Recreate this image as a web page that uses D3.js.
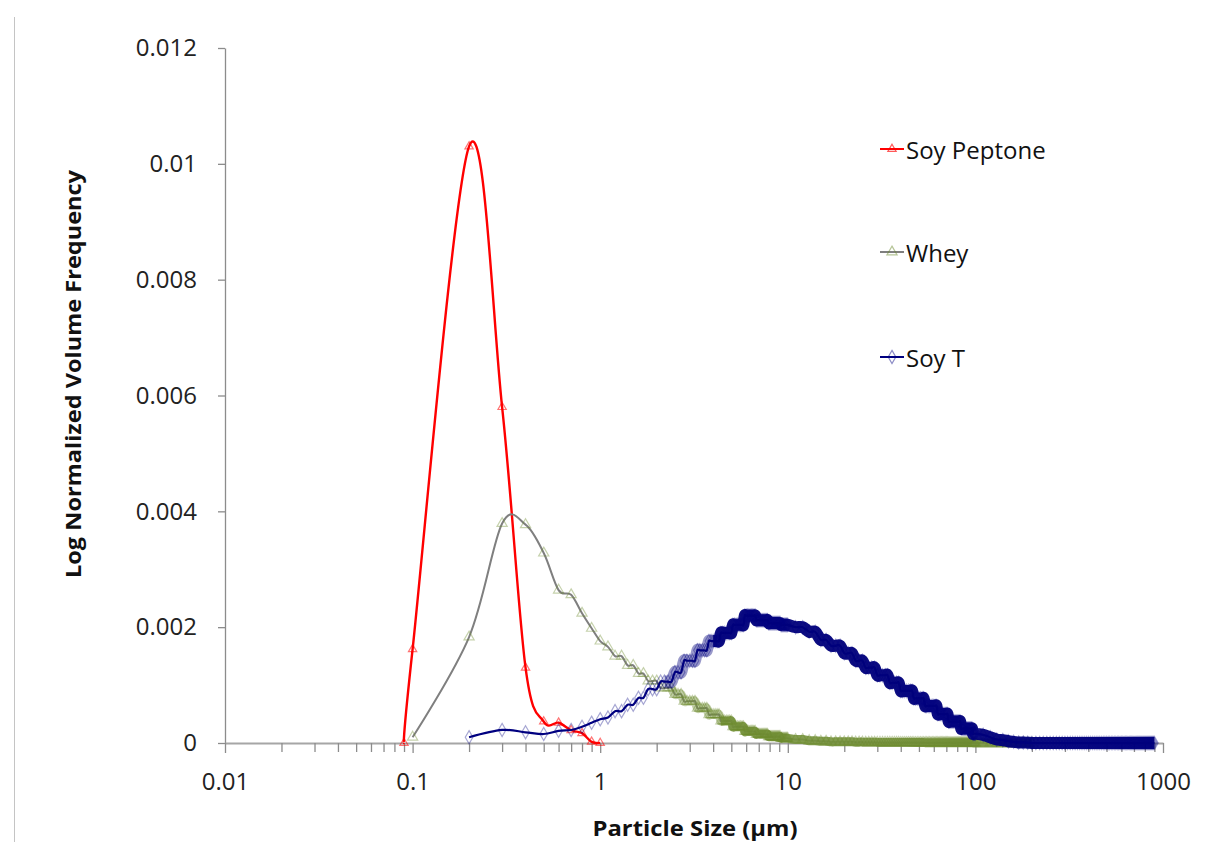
<!DOCTYPE html>
<html>
<head>
<meta charset="utf-8">
<script src="https://cdn.jsdelivr.net/npm/d3@7"></script>
<style>
  body { margin: 0; background: #fff; }
  text { font-family: "Open Sans", "DejaVu Sans", sans-serif; }
</style>
</head>
<body>
<div id="chart"></div>
<script>
// tick labels
var xTickValues = [0.01, 0.1, 1, 10, 100, 1000];
var xTickLabels = ["0.01", "0.1", "1", "10", "100", "1000"];
var yTickValues = [0, 0.002, 0.004, 0.006, 0.008, 0.01, 0.012];
var yTickLabels = ["0", "0.002", "0.004", "0.006", "0.008", "0.01", "0.012"];
var seriesNames = ["Soy Peptone", "Whey", "Soy T"];

// particle size classes (um)
var lowSizes = [0.1, 0.2, 0.3, 0.4, 0.5, 0.6, 0.7, 0.8, 0.9, 1.0];
var fineSizes = [
  1.1, 1.2, 1.3, 1.4, 1.5, 1.6, 1.7, 1.8, 1.9, 2.0,
  2.1, 2.2, 2.3, 2.4, 2.5, 2.6, 2.7, 2.8, 2.9, 3.0,
  3.1, 3.2, 3.3, 3.4, 3.5, 3.6, 3.7, 3.8, 3.9, 4.0,
  4.1, 4.2, 4.3, 4.4, 4.5, 4.6, 4.7, 4.8, 4.9, 5.0,
  5.1, 5.2, 5.3, 5.4, 5.5, 5.6, 5.7, 5.8, 5.9, 6.0,
  6.1, 6.2, 6.3, 6.4, 6.5, 6.6, 6.7, 6.8, 6.9, 7.0,
  7.1, 7.2, 7.3, 7.4, 7.5, 7.6, 7.7, 7.8, 7.9, 8.0,
  8.1, 8.2, 8.3, 8.4, 8.5, 8.6, 8.7, 8.8, 8.9, 9.0,
  9.1, 9.2, 9.3, 9.4, 9.5, 9.6, 9.7, 9.8, 9.9, 10.0
];
var midSizes = [
  11, 12, 13, 14, 15, 16, 17, 18, 19, 20,
  21, 22, 23, 24, 25, 26, 27, 28, 29, 30,
  31, 32, 33, 34, 35, 36, 37, 38, 39, 40,
  41, 42, 43, 44, 45, 46, 47, 48, 49, 50,
  51, 52, 53, 54, 55, 56, 57, 58, 59, 60,
  61, 62, 63, 64, 65, 66, 67, 68, 69, 70,
  71, 72, 73, 74, 75, 76, 77, 78, 79, 80,
  81, 82, 83, 84, 85, 86, 87, 88, 89, 90,
  91, 92, 93, 94, 95, 96, 97, 98, 99, 100
];
var coarseSizes = [
  110, 120, 130, 140, 150, 160, 170, 180, 190, 200,
  210, 220, 230, 240, 250, 260, 270, 280, 290, 300,
  310, 320, 330, 340, 350, 360, 370, 380, 390, 400,
  410, 420, 430, 440, 450, 460, 470, 480, 490, 500,
  510, 520, 530, 540, 550, 560, 570, 580, 590, 600,
  610, 620, 630, 640, 650, 660, 670, 680, 690, 700,
  710, 720, 730, 740, 750, 760, 770, 780, 790, 800,
  810, 820, 830, 840, 850, 860, 870, 880, 890, 900
];

// Soy Peptone
var peptoneSize = [0.09, 0.1, 0.2, 0.3, 0.4, 0.5, 0.6, 0.7, 0.8, 0.9, 1.0];
var peptoneFreq = [0, 0.00162, 0.0103, 0.0058, 0.0013, 0.00037, 0.00035, 0.00022, 0.00017, 0.00002, 0];

// Whey
var wheyFreqLow = [0.0001, 0.00183, 0.00379, 0.00377, 0.00328, 0.00264, 0.00256, 0.00224, 0.00198, 0.00176];
var wheyFreqFine = [
  0.00166, 0.0015, 0.0015, 0.00134, 0.00134, 0.0012, 0.0012, 0.00107, 0.00107, 0.00107,
  0.00095, 0.00095, 0.00095, 0.00095, 0.00084, 0.00084, 0.00084, 0.00072, 0.00072, 0.00072,
  0.00072, 0.00072, 0.0006, 0.0006, 0.0006, 0.0006, 0.0006, 0.00049, 0.00049, 0.00049,
  0.00049, 0.00049, 0.00049, 0.00038, 0.00038, 0.00038, 0.00038, 0.00038, 0.00038, 0.00038,
  0.00028, 0.00028, 0.00028, 0.00028, 0.00028, 0.00028, 0.00028, 0.00028, 0.0002, 0.0002,
  0.0002, 0.0002, 0.0002, 0.0002, 0.0002, 0.0002, 0.0002, 0.00015, 0.00015, 0.00015,
  0.00015, 0.00015, 0.00015, 0.00015, 0.00015, 0.00015, 0.00015, 0.00015, 0.00011, 0.00011,
  0.00011, 0.00011, 0.00011, 0.00011, 0.00011, 0.00011, 0.00011, 0.00011, 0.00011, 0.00011,
  0.00011, 0.00008, 0.00008, 0.00008, 0.00008, 0.00008, 0.00008, 0.00008, 0.00008, 0.00008
];
var wheyFreqMid = [
  0.00006, 0.00006, 0.00004, 0.00004, 0.00003, 0.00003, 0.00002, 0.00002, 0.00002, 0.00002,
  0.00002, 0.00002, 0.000015, 0.000015, 0.000015, 0.000012, 0.000012, 0.000012, 0.000012, 0.00001,
  0.00001, 0.00001, 0.00001, 0.00001, 0.00001, 0.00001, 0.00001, 0.00001, 0.00001, 0.000008,
  0.000008, 0.000008, 0.000008, 0.000008, 0.000008, 0.000008, 0.000007, 0.000007, 0.000007, 0.000007,
  0.000007, 0.000007, 0.000007, 0.000006, 0.000006, 0.000006, 0.000006, 0.000006, 0.000006, 0.000006,
  0.000006, 0.000006, 0.000005, 0.000005, 0.000005, 0.000005, 0.000005, 0.000005, 0.000005, 0.000005,
  0.000005, 0.000004, 0.000004, 0.000004, 0.000004, 0.000004, 0.000004, 0.000004, 0.000004, 0.000004,
  0.000004, 0.000004, 0.000004, 0.000003, 0.000003, 0.000003, 0.000003, 0.000003, 0.000003, 0.000003,
  0.000003, 0.000003, 0.000003, 0.000003, 0.000003, 0.000003, 0.000002, 0.000002, 0.000002, 0.000002
];
var wheyFreqCoarse = [0, 0, 0, 0, 0, 0, 0, 0, 0, 0];

// Soy T
var soyTFreqLow = [0.0001, 0.000225, 0.000185, 0.000155, 0.00021, 0.000225, 0.00028, 0.00035, 0.00041];
var soyTFreqFine = [
  0.00044, 0.00055, 0.00055, 0.00066, 0.00066, 0.00078, 0.00078, 0.00093, 0.00093, 0.00093,
  0.00106, 0.00106, 0.00106, 0.00106, 0.00122, 0.00122, 0.00122, 0.00142, 0.00142, 0.00142,
  0.00142, 0.00142, 0.0016, 0.0016, 0.0016, 0.0016, 0.0016, 0.00176, 0.00176, 0.00176,
  0.00176, 0.00176, 0.00176, 0.0019, 0.0019, 0.0019, 0.0019, 0.0019, 0.0019, 0.0019,
  0.00204, 0.00204, 0.00204, 0.00204, 0.00204, 0.00204, 0.00204, 0.00204, 0.0022, 0.0022,
  0.0022, 0.0022, 0.0022, 0.0022, 0.0022, 0.0022, 0.0022, 0.00212, 0.00212, 0.00212,
  0.00212, 0.00212, 0.00212, 0.00212, 0.00212, 0.00212, 0.00212, 0.00212, 0.00207, 0.00207,
  0.00207, 0.00207, 0.00207, 0.00207, 0.00207, 0.00207, 0.00207, 0.00207, 0.00207, 0.00207,
  0.00207, 0.00204, 0.00204, 0.00204, 0.00204, 0.00204, 0.00204, 0.00204, 0.00204, 0.00204
];
var soyTFreqMid = [
  0.002, 0.002, 0.00192, 0.00192, 0.00178, 0.00178, 0.00168, 0.00168, 0.00168, 0.00155,
  0.00155, 0.00155, 0.00142, 0.00142, 0.00142, 0.0013, 0.0013, 0.0013, 0.0013, 0.00117,
  0.00117, 0.00117, 0.00117, 0.00117, 0.00104, 0.00104, 0.00104, 0.00104, 0.00104, 0.0009,
  0.0009, 0.0009, 0.0009, 0.0009, 0.0009, 0.0009, 0.00077, 0.00077, 0.00077, 0.00077,
  0.00077, 0.00077, 0.00077, 0.00064, 0.00064, 0.00064, 0.00064, 0.00064, 0.00064, 0.00064,
  0.00064, 0.00064, 0.0005, 0.0005, 0.0005, 0.0005, 0.0005, 0.0005, 0.0005, 0.0005,
  0.0005, 0.00037, 0.00037, 0.00037, 0.00037, 0.00037, 0.00037, 0.00037, 0.00037, 0.00037,
  0.00037, 0.00037, 0.00037, 0.00025, 0.00025, 0.00025, 0.00025, 0.00025, 0.00025, 0.00025,
  0.00025, 0.00025, 0.00025, 0.00025, 0.00025, 0.00025, 0.00016, 0.00016, 0.00016, 0.00016
];
var soyTFreqCoarse = [
  0.00014, 0.0001, 0.00006, 0.00005, 0.00003, 0.00002, 0.00001, 0.00001, 0.000005, 0,
  0, 0, 0, 0, 0, 0, 0, 0, 0, 0,
  0, 0, 0, 0, 0, 0, 0, 0, 0, 0,
  0, 0, 0, 0, 0, 0, 0, 0, 0, 0,
  0, 0, 0, 0, 0, 0, 0, 0, 0, 0,
  0, 0, 0, 0, 0, 0, 0, 0, 0, 0,
  0, 0, 0, 0, 0, 0, 0, 0, 0, 0,
  0, 0, 0, 0, 0, 0, 0, 0, 0, 0
];

var wheySize = lowSizes.concat(fineSizes, midSizes, coarseSizes.slice(0, wheyFreqCoarse.length));
var wheyFreq = wheyFreqLow.concat(wheyFreqFine, wheyFreqMid, wheyFreqCoarse);
var soyTSize = lowSizes.slice(1).concat(fineSizes, midSizes, coarseSizes);
var soyTFreq = soyTFreqLow.concat(soyTFreqFine, soyTFreqMid, soyTFreqCoarse);

var width = 1226, height = 842;

var svg = d3.select("#chart").append("svg")
    .attr("width", width)
    .attr("height", height);

var x = d3.scaleLog().domain([0.01, 1000]).range([225, 1163]);
var y = d3.scaleLinear().domain([0, 0.012]).range([743, 48]);

// slide frame edge on the left
svg.append("line")
    .attr("x1", 14.5).attr("x2", 14.5)
    .attr("y1", 17).attr("y2", height)
    .attr("stroke", "#c4c4c4")
    .attr("stroke-width", 1);

// y axis
var yAxis = svg.append("g")
    .attr("transform", "translate(225,0)")
    .call(d3.axisLeft(y)
        .tickValues(yTickValues)
        .tickFormat(function (d, i) { return yTickLabels[i]; })
        .tickSize(7)
        .tickSizeOuter(0)
        .tickPadding(21));
yAxis.select(".domain").attr("stroke", "#8c8c8c").attr("stroke-width", 1.3);
yAxis.selectAll(".tick line").attr("stroke", "#8c8c8c").attr("stroke-width", 1.3);
yAxis.selectAll(".tick text")
    .attr("fill", "#222")
    .style("font-size", "24px")
    .style("font-family", "'Open Sans', sans-serif");

// x axis (log, minor ticks without labels)
var allTicks = x.ticks();
var xAxis = svg.append("g")
    .attr("transform", "translate(0,743)")
    .call(d3.axisBottom(x)
        .tickValues(allTicks)
        .tickFormat(function (d) {
            var i = xTickValues.indexOf(d);
            return i >= 0 ? xTickLabels[i] : "";
        })
        .tickSize(9)
        .tickSizeOuter(0));
xAxis.select(".domain").attr("stroke", "#a6a6a6").attr("stroke-width", 2);
xAxis.selectAll(".tick line")
    .attr("stroke", "#8c8c8c")
    .attr("stroke-width", 1.3)
    .attr("y2", function (d) { return xTickValues.indexOf(d) >= 0 ? 10 : 9; });
xAxis.selectAll(".tick text")
    .attr("y", 39)
    .attr("dy", "0.35em")
    .attr("fill", "#222")
    .style("font-size", "24px")
    .style("font-family", "'Open Sans', sans-serif");

// axis titles
svg.append("text")
    .text("Log Normalized Volume Frequency")
    .attr("transform", "translate(73,374) rotate(-90)")
    .attr("text-anchor", "middle")
    .attr("dominant-baseline", "central")
    .attr("textLength", 408)
    .attr("lengthAdjust", "spacingAndGlyphs")
    .attr("font-weight", "bold")
    .attr("font-size", "21px")
    .attr("fill", "#111");

svg.append("text")
    .text("Particle Size (µm)")
    .attr("x", 695)
    .attr("y", 836)
    .attr("text-anchor", "middle")
    .attr("textLength", 205)
    .attr("lengthAdjust", "spacingAndGlyphs")
    .attr("font-weight", "bold")
    .attr("font-size", "22px")
    .attr("fill", "#111");

var line = d3.line()
    .x(function (d) { return x(d[0]); })
    .y(function (d) { return y(d[1]); })
    .curve(d3.curveCatmullRom.alpha(0));

var triangle = d3.symbol().type(d3.symbolTriangle);
var diamond = d3.symbol().type(d3.symbolDiamond);

// band: where the markers pile up into a solid strip (from, to, opacity)
var series = [
    {name: seriesNames[0], size: peptoneSize, freq: peptoneFreq, line: "#ff0000", lw: 2.4,
     marker: triangle.size(30)(), mStroke: "#ff0000", mOpacity: 0.55,
     band: null, bandWidth: 0},
    {name: seriesNames[1], size: wheySize, freq: wheyFreq, line: "#7f7f7f", lw: 2,
     marker: triangle.size(45)(), mStroke: "#6e8b2f", mOpacity: 0.4,
     band: [[2.4, 4.6, 0.45], [4.4, 1000, 0.9]], bandWidth: 9, bandColor: "#76923c"},
    {name: seriesNames[2], size: soyTSize, freq: soyTFreq, line: "#000080", lw: 2.2,
     marker: diamond.size(50)(), mStroke: "#000080", mOpacity: 0.35,
     band: [[2.2, 4.2, 0.4], [4.0, 1000, 0.95]], bandWidth: 12, bandColor: "#00007a"}
];

series.forEach(function (s) {
    var pts = s.size.map(function (v, i) { return [v, s.freq[i]]; });
    var g = svg.append("g");
    g.append("path")
        .datum(pts)
        .attr("d", line)
        .attr("fill", "none")
        .attr("stroke", s.line)
        .attr("stroke-width", s.lw);
    if (s.band) {
        s.band.forEach(function (b) {
            g.append("path")
                .datum(pts.filter(function (d) { return d[0] >= b[0] && d[0] <= b[1]; }))
                .attr("d", line)
                .attr("fill", "none")
                .attr("stroke", s.bandColor)
                .attr("stroke-opacity", b[2])
                .attr("stroke-width", s.bandWidth)
                .attr("stroke-linejoin", "miter");
        });
    }
    g.selectAll("path.marker")
        .data(pts)
        .enter()
        .append("path")
        .attr("class", "marker")
        .attr("d", s.marker)
        .attr("transform", function (d) { return "translate(" + x(d[0]) + "," + y(d[1]) + ")"; })
        .attr("fill", "none")
        .attr("stroke", s.mStroke)
        .attr("stroke-opacity", s.mOpacity)
        .attr("stroke-width", 1.2);
});

// legend
var legendY = [149, 252, 357];
var legend = svg.append("g").selectAll("g")
    .data(series)
    .enter()
    .append("g")
    .attr("transform", function (d, i) { return "translate(880," + legendY[i] + ")"; });
legend.append("line")
    .attr("x1", 0).attr("x2", 24)
    .attr("stroke", function (d) { return d.line; })
    .attr("stroke-width", 2);
legend.append("path")
    .attr("d", function (d) { return d.marker; })
    .attr("transform", "translate(12,0)")
    .attr("fill", "none")
    .attr("stroke", function (d) { return d.mStroke; })
    .attr("stroke-opacity", function (d) { return d.mOpacity + 0.1; })
    .attr("stroke-width", 1.2);
legend.append("text")
    .text(function (d) { return d.name; })
    .attr("x", 26)
    .attr("dominant-baseline", "central")
    .attr("font-size", "24px")
    .attr("fill", "#111");
</script>
</body>
</html>
